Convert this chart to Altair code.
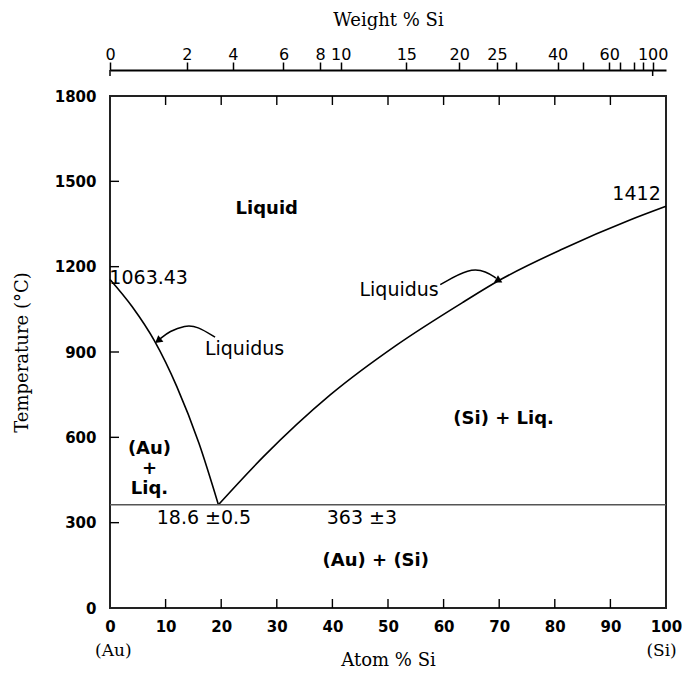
import json
import altair as alt
import pandas as pd

# ---------------- data ----------------
au_liq_x = [0, 4, 8, 12, 16, 19.5]
au_liq_t = [1155, 1059, 939, 779, 579, 363]
si_liq_x = [19.5, 27.6, 39.6, 51.6, 63.5, 70.1, 81.5, 93.4, 100]
si_liq_t = [363, 532, 749, 925, 1075, 1153, 1263, 1363, 1412]
eutectic_t = 363

arrow1_x = [18.9, 15.7, 13.5, 10.7, 9.0]
arrow1_t = [952, 991, 994, 973, 946]
arrow2_x = [59.4, 64.7, 67.7, 69.4]
arrow2_t = [1137, 1196, 1183, 1160]
head_x = [8.8, 69.8]
head_t = [942, 1153]

bold_labels = ["Liquid", "(Au)\n+\nLiq.", "(Si) + Liq.", "(Au) + (Si)"]
bold_x = [28.2, 7.1, 70.8, 47.8]
bold_t = [1404, 560, 665, 165]
reg_labels = ["1063.43", "Liquidus", "Liquidus", "1412", "18.6 \u00b10.5", "363  \u00b13"]
reg_x = [6.95, 24.2, 52.0, 94.7, 16.9, 45.3]
reg_t = [1159, 910, 1117, 1457, 315, 315]

end_labels = ["(Au)", "(Si)"]
end_x = [0.6, 99.2]

atom_ticks = [0, 10, 20, 30, 40, 50, 60, 70, 80, 90, 100]
temp_ticks = [0, 300, 600, 900, 1200, 1500, 1800]
inner_x_ticks = [10, 20, 30, 40, 50, 60, 70, 80, 90]
inner_y_ticks = [300, 600, 900, 1200, 1500]

# Weight % Si axis: positions (atom %) and labels
wt_pos = [0, 13.8, 22.1, 31.2, 37.8, 41.5, 53.3, 62.8, 69.6, 73.1, 80.5, 85.0, 89.8, 91.8, 94.2, 95.9, 97.6]
wt_lab = ["0", "2", "4", "6", "8", "10", "15", "20", "25", "", "40", "", "60", "", "", "", "100"]
wt_end_ticks = [0, 97.6]

# ---------------- chart ----------------
W, H = 556, 512
SANS = "DejaVu Sans"
SERIF = "DejaVu Serif"

xs = alt.Scale(domain=[0, 100], nice=False, zero=False)
ys = alt.Scale(domain=[0, 1800], nice=False, zero=False)

curves = pd.concat([
    pd.DataFrame({"x": au_liq_x, "t": au_liq_t, "seg": "au", "o": range(len(au_liq_x))}),
    pd.DataFrame({"x": si_liq_x, "t": si_liq_t, "seg": "si", "o": range(len(si_liq_x))}),
])

bottom_axis = alt.Axis(
    values=atom_ticks, ticks=False, tickSize=0, domain=False, grid=False,
    labelFont=SANS, labelFontWeight="bold", labelFontSize=15, labelColor="black",
    labelPadding=11, labelFlush=False, labelOverlap=False,
    title="Atom % Si", titleFont=SERIF, titleFontWeight="normal", titleFontSize=18,
    titleColor="black", titlePadding=17,
)
left_axis = alt.Axis(
    values=temp_ticks, format="d", ticks=False, tickSize=0, domain=False, grid=False,
    labelFont=SANS, labelFontWeight="bold", labelFontSize=15, labelColor="black",
    labelPadding=14, labelFlush=False, labelOverlap=False,
    title="Temperature (\u00b0C)", titleFont=SERIF, titleFontWeight="normal", titleFontSize=18,
    titleColor="black", titlePadding=23,
)
label_expr = f"{json.dumps(wt_lab)}[indexof({json.dumps(wt_pos)}, datum.value)]"
top_axis = alt.Axis(
    orient="top", offset=26, values=wt_pos, labelExpr=label_expr,
    ticks=True, tickSize=8, tickColor="black", tickWidth=1.5,
    domain=True, domainColor="black", domainWidth=1.8, grid=False,
    labelFont=SANS, labelFontSize=16, labelColor="black", labelPadding=0,
    labelFlush=False, labelOverlap=False,
    title="Weight % Si", titleFont=SERIF, titleFontWeight="normal", titleFontSize=18,
    titleColor="black", titlePadding=17,
)

liq = alt.Chart(curves).mark_line(color="black", strokeWidth=1.6, interpolate="monotone").encode(
    x=alt.X("x:Q", scale=xs, axis=bottom_axis),
    y=alt.Y("t:Q", scale=ys, axis=left_axis),
    detail="seg:N",
    order="o:Q",
)

eut = alt.Chart(pd.DataFrame({"x": [0], "x2": [100], "t": [eutectic_t]})).mark_rule(
    color="#555555", strokeWidth=1.3
).encode(
    x=alt.X("x:Q", scale=xs, axis=top_axis),
    x2="x2:Q",
    y=alt.Y("t:Q", scale=ys),
)

arrows = pd.concat([
    pd.DataFrame({"x": arrow1_x, "t": arrow1_t, "seg": "a1", "o": range(len(arrow1_x))}),
    pd.DataFrame({"x": arrow2_x, "t": arrow2_t, "seg": "a2", "o": range(len(arrow2_x))}),
])
arr = alt.Chart(arrows).mark_line(color="black", strokeWidth=1.5, interpolate="basis").encode(
    x=alt.X("x:Q", scale=xs, axis=None),
    y=alt.Y("t:Q", scale=ys),
    detail="seg:N",
    order="o:Q",
)
heads = alt.Chart(pd.DataFrame({"x": head_x, "t": head_t, "a": [232, 119]})).mark_point(
    shape="triangle", filled=True, color="black", size=70, opacity=1
).encode(
    x=alt.X("x:Q", scale=xs, axis=None),
    y=alt.Y("t:Q", scale=ys),
    angle=alt.Angle("a:Q", scale=None),
)

bold_txt = alt.Chart(pd.DataFrame({"x": bold_x, "t": bold_t, "s": bold_labels})).mark_text(
    font=SANS, fontWeight="bold", fontSize=18, color="black", align="center", baseline="middle",
    lineBreak="\n", lineHeight=20,
).encode(x=alt.X("x:Q", scale=xs, axis=None), y=alt.Y("t:Q", scale=ys), text="s:N")

reg_txt = alt.Chart(pd.DataFrame({"x": reg_x, "t": reg_t, "s": reg_labels})).mark_text(
    font=SANS, fontSize=19, color="black", align="center", baseline="middle"
).encode(x=alt.X("x:Q", scale=xs, axis=None), y=alt.Y("t:Q", scale=ys), text="s:N")

end_txt = alt.Chart(pd.DataFrame({"x": end_x, "s": end_labels})).mark_text(
    font=SERIF, fontSize=17, color="black", align="center", baseline="middle"
).encode(x=alt.X("x:Q", scale=xs, axis=None), y=alt.value(H + 43), text="s:N")

xt = alt.Chart(pd.DataFrame({"x": inner_x_ticks})).mark_rule(color="black", strokeWidth=1.4)
xt_bottom = xt.encode(x=alt.X("x:Q", scale=xs, axis=None), y=alt.value(H), y2=alt.value(H - 9))
xt_top = xt.encode(x=alt.X("x:Q", scale=xs, axis=None), y=alt.value(0), y2=alt.value(9))
yt = alt.Chart(pd.DataFrame({"t": inner_y_ticks})).mark_rule(color="black", strokeWidth=1.4).encode(
    y=alt.Y("t:Q", scale=ys), x=alt.value(0), x2=alt.value(9)
)
wt_end = alt.Chart(pd.DataFrame({"x": wt_end_ticks})).mark_rule(color="black", strokeWidth=1.5).encode(
    x=alt.X("x:Q", scale=xs, axis=None), y=alt.value(-26), y2=alt.value(-20)
)

chart = alt.layer(
    liq, eut, arr, heads, bold_txt, reg_txt, end_txt, xt_bottom, xt_top, yt, wt_end
).resolve_axis(x="independent").properties(
    width=W, height=H, padding={"left": 5, "top": 3, "right": 0, "bottom": 0},
    background="white",
).configure_view(stroke="#222222", strokeWidth=2)

chart.save("out.html", embed_options={"renderer": "svg", "actions": False})
